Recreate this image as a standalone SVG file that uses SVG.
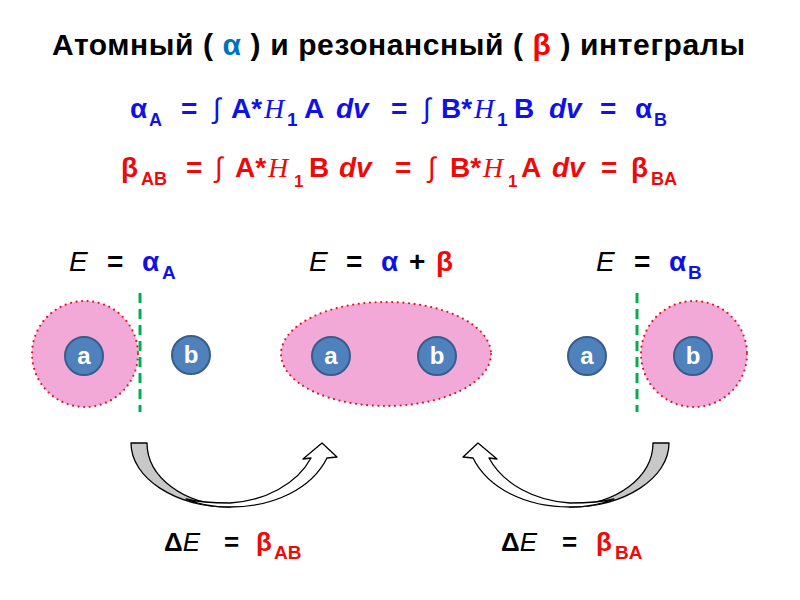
<svg xmlns="http://www.w3.org/2000/svg" width="800" height="600" viewBox="0 0 800 600">
<style>
text{font-family:"Liberation Sans",Arial,sans-serif;}
.b{font-weight:bold;}
.it{font-style:italic;}
.h{font-family:"Liberation Serif","Times New Roman",serif;font-style:italic;font-weight:normal;font-size:28px;}
.int{font-weight:normal;}
.blue{fill:#1010e8;}
.red{fill:#ee0a0a;}
.cloud{fill:#f3a9d8;stroke:#e8101a;stroke-width:2.2;stroke-linecap:round;stroke-dasharray:0 5.6;}
.atom{fill:#4f81bd;stroke:#385d8a;stroke-width:2;}
.al{fill:#fff;font-weight:bold;font-size:24px;text-anchor:middle;}
.node{stroke:#00b050;stroke-width:3;stroke-dasharray:10 6;}
.arr{stroke:#000;stroke-width:1.3;stroke-linejoin:round;}
</style>
<defs>
<g id="arrowShape">
<path class="arr" fill="#c8c8c8" d="M131,443 L147,443 C147,477 184,505 230,505 L230,507 C175,507 131,478 131,443 Z"/>
<path class="arr" fill="#fff" d="M186,499 C200,505 214,507 230,507 C275,507 312,488 327,458 L337,457 L322,443 L303,459 L311,458 C297,484 265,501 230,503 C212,503 198,502 186,499 Z"/>
</g>
</defs>

<g id="title">
<text x="52" y="55" class="b" font-size="30" textLength="693" lengthAdjust="spacing">Атомный ( <tspan fill="#0070c0">α</tspan> ) и резонансный ( <tspan fill="#ff0000">β</tspan> ) интегралы</text>
</g>

<g id="alpha-formula" class="blue">
<text y="118" class="b" font-size="28"><tspan x="130">α</tspan><tspan x="149" y="126" font-size="18">A</tspan><tspan x="181" y="118">=</tspan><tspan x="213" class="int">∫</tspan><tspan x="231">A*</tspan><tspan x="264" class="h">H</tspan><tspan x="287" y="126" font-size="19">1</tspan><tspan x="304" y="118">A</tspan><tspan x="336" class="it">dv</tspan><tspan x="391">=</tspan><tspan x="423" class="int">∫</tspan><tspan x="441">B*</tspan><tspan x="474" class="h">H</tspan><tspan x="497" y="126" font-size="19">1</tspan><tspan x="514" y="118">B</tspan><tspan x="549" class="it">dv</tspan><tspan x="600">=</tspan><tspan x="635">α</tspan><tspan x="654" y="126" font-size="18">B</tspan></text>
</g>

<g id="beta-formula" class="red">
<text y="177" class="b" font-size="28"><tspan x="121">β</tspan><tspan x="141" y="185" font-size="18">AB</tspan><tspan x="186" y="177">=</tspan><tspan x="215" class="int">∫</tspan><tspan x="235">A*</tspan><tspan x="268" class="h">H</tspan><tspan x="294" y="187" font-size="17">1</tspan><tspan x="309" y="177">B</tspan><tspan x="339" class="it">dv</tspan><tspan x="395">=</tspan><tspan x="428" class="int">∫</tspan><tspan x="450">B*</tspan><tspan x="483" class="h">H</tspan><tspan x="508" y="187" font-size="17">1</tspan><tspan x="521" y="177">A</tspan><tspan x="552" class="it">dv</tspan><tspan x="601">=</tspan><tspan x="631">β</tspan><tspan x="651" y="185" font-size="18">BA</tspan></text>
</g>

<g id="state-left">
<text y="271" font-size="28"><tspan x="69" class="it">E</tspan><tspan x="107" class="b">=</tspan><tspan x="142" class="b blue">α</tspan><tspan x="162" y="279" font-size="19" class="b blue">A</tspan></text>
<circle class="cloud" cx="85" cy="354" r="53"/>
<line class="node" x1="140" y1="293" x2="140" y2="412"/>
<circle class="atom" cx="84" cy="356" r="19"/>
<text class="al" x="84" y="364">a</text>
<circle class="atom" cx="191" cy="355" r="19"/>
<text class="al" x="191" y="363">b</text>
</g>

<g id="state-middle">
<text y="271" font-size="28"><tspan x="309" class="it">E</tspan><tspan x="346" class="b">=</tspan><tspan x="381" class="b blue">α</tspan><tspan x="409" class="b">+</tspan><tspan x="436" class="b red">β</tspan></text>
<ellipse class="cloud" cx="386" cy="354" rx="105" ry="52"/>
<circle class="atom" cx="331" cy="356" r="19"/>
<text class="al" x="331" y="364">a</text>
<circle class="atom" cx="437" cy="356" r="19"/>
<text class="al" x="437" y="364">b</text>
</g>

<g id="state-right">
<text y="271" font-size="28"><tspan x="596" class="it">E</tspan><tspan x="634" class="b">=</tspan><tspan x="669" class="b blue">α</tspan><tspan x="688" y="279" font-size="19" class="b blue">B</tspan></text>
<circle class="atom" cx="587" cy="356" r="19"/>
<text class="al" x="587" y="364">a</text>
<circle class="cloud" cx="694" cy="354" r="53"/>
<line class="node" x1="637" y1="293" x2="637" y2="412"/>
<circle class="atom" cx="693" cy="356" r="19"/>
<text class="al" x="693" y="364">b</text>
</g>

<g id="connectors">
<use href="#arrowShape"/>
<use href="#arrowShape" transform="translate(800,0) scale(-1,1)"/>
</g>

<g id="delta-left">
<text y="551" font-size="26"><tspan x="164" class="b">Δ</tspan><tspan class="it">E</tspan><tspan x="224" class="b">=</tspan><tspan x="256" class="b red">β</tspan><tspan x="274" y="559" font-size="19" class="b red">AB</tspan></text>
</g>

<g id="delta-right">
<text y="551" font-size="26"><tspan x="501" class="b">Δ</tspan><tspan class="it">E</tspan><tspan x="562" class="b">=</tspan><tspan x="596" class="b red">β</tspan><tspan x="615" y="559" font-size="19" class="b red">BA</tspan></text>
</g>
</svg>
